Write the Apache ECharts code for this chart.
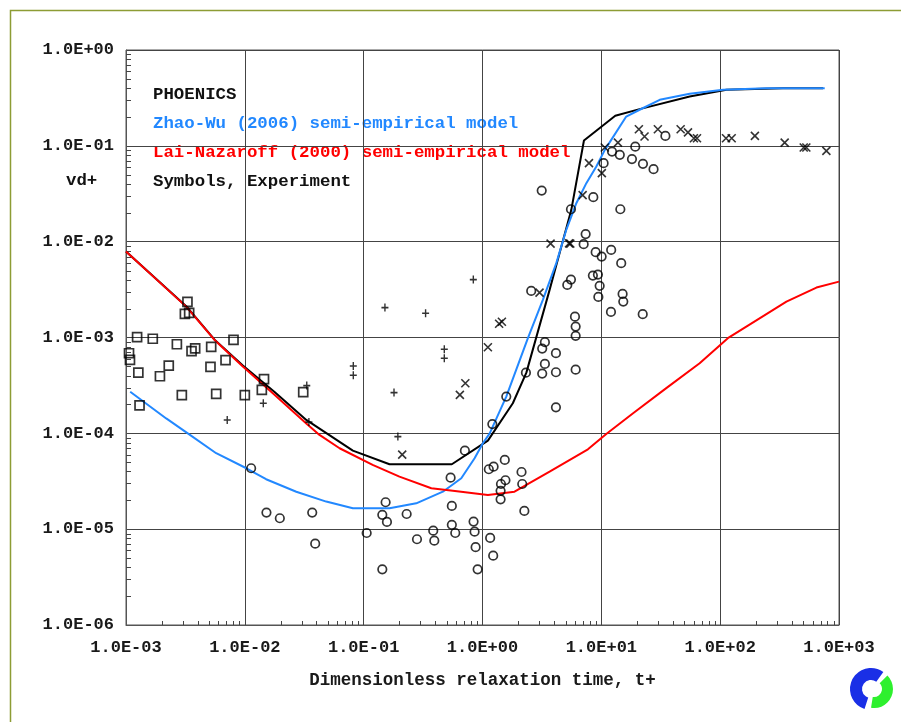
<!DOCTYPE html>
<html><head><meta charset="utf-8">
<script src="https://cdn.jsdelivr.net/npm/echarts@6/dist/echarts.min.js"></script>
<style>html,body{margin:0;padding:0;background:#fff}#c{width:901px;height:722px}</style>
</head><body><div id="c"></div>
<script>
const xTickLabels = ['1.0E-03','1.0E-02','1.0E-01','1.0E+00','1.0E+01','1.0E+02','1.0E+03'];
const yTickLabels = ['1.0E-06','1.0E-05','1.0E-04','1.0E-03','1.0E-02','1.0E-01','1.0E+00'];

const phoenicsLine = [
  [1.0e-3,7.88e-3],[3.21e-3,2.12e-3],[5.56e-3,9.5e-4],[9.62e-3,5.11e-4],[1.78e-2,2.70e-4],
  [3.29e-2,1.38e-4],[8.11e-2,6.6e-5],[0.165,4.76e-5],[0.552,4.76e-5],[1.11,8.39e-5],
  [1.80,2.06e-4],[2.34,4.30e-4],[3.67,3.14e-3],[4.61,8.89e-3],[5.59,2.15e-2],
  [7.14,0.1136],[13.1,0.2056],[21.0,0.2416],[55.4,0.327],[113,0.384],[338,0.400],[733,0.400]
];
const zhaoWuLine = [
  [1.085e-3,2.72e-4],[2.18e-3,1.43e-4],[3.31e-3,1.00e-4],[5.74e-3,6.2e-5],[1.03e-2,4.32e-5],
  [1.51e-2,3.32e-5],[2.71e-2,2.46e-5],[4.84e-2,1.94e-5],[8.11e-2,1.65e-5],[0.165,1.65e-5],
  [0.277,1.86e-5],[0.464,2.46e-5],[0.663,3.40e-5],[0.858,5.49e-5],[1.007,7.88e-5],
  [1.15,1.00e-4],[1.585,2.42e-4],[2.41,9.84e-4],[3.22,2.47e-3],[4.18,5.97e-3],
  [5.07,1.33e-2],[6.16,2.52e-2],[7.48,4.08e-2],[9.08,6.08e-2],[10.7,9.08e-2],
  [16.2,0.202],[21.0,0.238],[31.0,0.302],[55.4,0.349],[106,0.384],[245,0.400],[758,0.400]
];
const laiNazaroffLine = [
  [1.0e-3,7.88e-3],[3.21e-3,2.10e-3],[5.56e-3,9.44e-4],[9.62e-3,4.97e-4],[1.72e-2,2.62e-4],
  [3.29e-2,1.27e-4],[4.25e-2,9.62e-5],[6.27e-2,6.99e-5],[0.119,4.68e-5],[0.200,3.53e-5],
  [0.371,2.67e-5],[0.563,2.52e-5],[1.11,2.27e-5],[1.86,2.46e-5],[3.67,3.98e-5],
  [7.71,6.82e-5],[11.0,9.86e-5],[18.5,1.62e-4],[35.2,2.96e-4],[67.2,5.39e-4],
  [116,9.84e-4],[166,1.30e-3],[361,2.37e-3],[646,3.32e-3],[1000,3.83e-3]
];

const expCircles = [
  [0.0113,4.32e-5],[0.0152,1.49e-5],[0.0197,1.30e-5],[0.0369,1.49e-5],[0.0391,7.06e-6],
  [0.106,9.12e-6],[0.153,1.91e-5],[0.1435,1.41e-5],[0.157,1.19e-5],[0.1435,3.81e-6],
  [0.230,1.44e-5],[0.281,7.85e-6],[0.385,9.64e-6],[0.393,7.59e-6],[0.539,3.45e-5],
  [0.552,1.75e-5],[0.552,1.11e-5],[0.590,9.12e-6],[0.711,6.6e-5],[0.841,1.20e-5],
  [0.858,9.42e-6],[0.875,6.48e-6],[0.910,3.81e-6],[1.16,8.1e-6],[1.23,5.29e-6],
  [1.13,4.22e-5],[1.24,4.49e-5],[1.54,5.28e-5],[1.21,1.25e-4],[1.43,2.96e-5],
  [1.56,3.24e-5],[1.42,2.51e-5],[1.42,2.05e-5],[2.13,3.95e-5],[2.16,2.96e-5],
  [2.25,1.55e-5],[2.57,3.06e-3],[9.44,2.65e-3],[15.1,2.85e-3],[15.3,2.37e-3],
  [12.05,1.85e-3],[22.3,1.75e-3],[6.0,1.65e-3],[6.08,1.30e-3],[6.08,1.04e-3],
  [3.35,8.93e-4],[3.18,7.66e-4],[4.15,6.86e-4],[3.35,5.30e-4],[3.18,4.20e-4],
  [4.15,4.34e-4],[6.08,4.62e-4],[2.32,4.30e-4],[1.585,2.42e-4],[4.15,1.87e-4],
  [3.15,3.41e-2],[5.55,2.18e-2],[8.56,2.91e-2],[7.38,1.20e-2],[7.10,9.41e-3],
  [8.96,7.77e-3],[10.06,6.99e-3],[12.1,8.21e-3],[14.7,5.97e-3],[8.49,4.43e-3],
  [9.36,4.54e-3],[5.55,4.02e-3],[5.17,3.54e-3],[9.68,3.46e-3],[14.45,2.18e-2],
  [10.45,6.6e-2],[12.3,8.72e-2],[14.3,8.05e-2],[18.1,7.27e-2],[22.4,6.49e-2],
  [27.5,5.71e-2],[19.3,9.8e-2],[34.6,0.127]
];
const expSquares = [
  [1.06e-3,6.85e-4],[1.08e-3,5.84e-4],[1.24e-3,1.01e-3],[1.68e-3,9.7e-4],[1.27e-3,4.3e-4],
  [1.30e-3,1.96e-4],[1.93e-3,3.94e-4],[2.29e-3,5.09e-4],[2.68e-3,8.5e-4],[2.95e-3,2.5e-4],
  [3.29e-3,2.35e-3],[3.13e-3,1.76e-3],[3.40e-3,1.81e-3],[3.56e-3,7.2e-4],[3.82e-3,7.7e-4],
  [5.21e-3,8.0e-4],[5.14e-3,4.93e-4],[5.74e-3,2.58e-4],[6.88e-3,5.8e-4],[8.03e-3,9.44e-4],
  [1.0e-2,2.5e-4],[1.45e-2,3.67e-4],[1.39e-2,2.84e-4],[3.10e-2,2.69e-4]
];
const expPluses = [
  [7.11e-3,1.38e-4],[1.43e-2,2.06e-4],[3.32e-2,3.15e-4],[3.46e-2,1.31e-4],[8.18e-2,5.05e-4],
  [8.18e-2,4.04e-4],[0.151,2.05e-3],[0.180,2.66e-4],[0.332,1.79e-3],[0.477,7.55e-4],
  [0.477,6.08e-4],[0.837,4.02e-3],[0.194,9.24e-5]
];
const expCrosses = [
  [0.211,6.0e-5],[1.11,7.92e-4],[0.645,2.52e-4],[0.717,3.33e-4],[1.456,1.46e-3],
  [1.38,1.39e-3],[3.02,2.94e-3],[3.74,9.55e-3],[5.48,9.55e-3],[5.35,9.6e-3],[6.96,3.06e-2],
  [7.87,6.6e-2],[10.1,5.19e-2],[10.7,9.6e-2],[13.8,0.108],[20.7,0.149],[23.1,0.125],
  [29.9,0.149],[46.5,0.149],[53.6,0.138],[60.1,0.120],[63.8,0.120],[112,0.120],
  [125,0.120],[196,0.127],[349,0.108],[505,0.096],[531,0.096],[783,0.0887]
];

const minorSteps = [2,3,4,5,6,7,8,9];
const xDecadeStarts = [1e-3,1e-2,1e-1,1e0,1e1,1e2];
const yDecadeStarts = [1e-6,1e-5,1e-4,1e-3,1e-2,1e-1];

const FONT = '"Liberation Mono","Courier New",monospace';
const xMinor = []; xDecadeStarts.forEach(d => minorSteps.forEach(m => xMinor.push([d*m, 1e-6])));
const yMinor = []; yDecadeStarts.forEach(d => minorSteps.forEach(m => yMinor.push([1e-3, d*m])));

function expIndex(v, base) { return Math.round(Math.log10(v)) - base; }

const chart = echarts.init(document.getElementById('c'), null, {renderer:'canvas'});
const hollow = (w) => ({color:'rgba(0,0,0,0)', borderColor:'#000', borderWidth:w});

chart.setOption({
  animation: false,
  backgroundColor: '#fff',
  grid: {left:126, top:50, width:713, height:575, show:true, borderColor:'#555', borderWidth:1, outerBoundsMode:'none'},
  xAxis: {
    type:'log', logBase:10, min:1e-3, max:1e3, splitNumber:6,
    axisLine:{show:true, lineStyle:{color:'#555', width:1}},
    axisTick:{show:false},
    splitLine:{show:true, lineStyle:{color:'#444', width:1}},
    axisLabel:{margin:14, color:'#1a1a1a', fontFamily:FONT, fontWeight:'bold', fontSize:17,
      formatter: v => xTickLabels[expIndex(v, -3)]},
    name:'Dimensionless relaxation time, t+', nameLocation:'middle', nameGap:47,
    nameTextStyle:{color:'#1a1a1a', fontFamily:FONT, fontWeight:'bold', fontSize:17.5}
  },
  yAxis: {
    type:'log', logBase:10, min:1e-6, max:1, splitNumber:6,
    axisLine:{show:true, lineStyle:{color:'#555', width:1}},
    axisTick:{show:false},
    splitLine:{show:true, lineStyle:{color:'#444', width:1}},
    axisLabel:{margin:12, color:'#1a1a1a', fontFamily:FONT, fontWeight:'bold', fontSize:17,
      padding:[0,0,11,0],
      formatter: v => yTickLabels[expIndex(v, -6)]}
  },
  graphic: [
    {type:'rect', silent:true, shape:{x:10.5, y:10.5, width:900, height:720}, style:{fill:'none', stroke:'#8d9c34', lineWidth:1.5}},
    {type:'text', x:153, y:95, style:{text:'PHOENICS', fill:'#111', font:'bold 17.4px '+FONT, verticalAlign:'middle'}},
    {type:'text', x:153, y:124, style:{text:'Zhao-Wu (2006) semi-empirical model', fill:'#2288ff', font:'bold 17.4px '+FONT, verticalAlign:'middle'}},
    {type:'text', x:153, y:153, style:{text:'Lai-Nazaroff (2000) semi-empirical model', fill:'#ff0000', font:'bold 17.4px '+FONT, verticalAlign:'middle'}},
    {type:'text', x:153, y:182, style:{text:'Symbols, Experiment', fill:'#111', font:'bold 17.4px '+FONT, verticalAlign:'middle'}},
    {type:'text', x:66, y:181, style:{text:'vd+', fill:'#111', font:'bold 17.4px '+FONT, verticalAlign:'middle'}},
    {type:'sector', silent:true, shape:{cx:871, cy:689, r:21, r0:9, startAngle:Math.PI*0.6, endAngle:Math.PI*1.7, clockwise:true}, style:{fill:'#1a2fe6'}},
    {type:'sector', silent:true, shape:{cx:874, cy:689, r:19, r0:8, startAngle:-Math.PI*0.25, endAngle:Math.PI*0.55, clockwise:true}, style:{fill:'#2ef02e'}}
  ],
  series: [
    {type:'custom', silent:true, clip:false, data:xMinor, z:1,
      renderItem:(params, api) => { const p = api.coord([api.value(0), api.value(1)]); const x = Math.round(p[0])+0.5;
        return {type:'line', shape:{x1:x, y1:p[1], x2:x, y2:p[1]-4}, style:{stroke:'#444', lineWidth:1}}; }},
    {type:'custom', silent:true, clip:false, data:yMinor, z:1,
      renderItem:(params, api) => { const p = api.coord([api.value(0), api.value(1)]); const y = Math.round(p[1])+0.5;
        return {type:'line', shape:{x1:p[0], y1:y, x2:p[0]+5, y2:y}, style:{stroke:'#444', lineWidth:1}}; }},
    {type:'line', name:'PHOENICS', data:phoenicsLine, showSymbol:false, symbol:'none', z:3, lineStyle:{color:'#000', width:2}},
    {type:'line', name:'Zhao-Wu', data:zhaoWuLine, showSymbol:false, symbol:'none', z:3, lineStyle:{color:'#2288ff', width:2}},
    {type:'line', name:'Lai-Nazaroff', data:laiNazaroffLine, showSymbol:false, symbol:'none', z:4, lineStyle:{color:'#ff0000', width:2}},
    {type:'scatter', data:expCircles, symbol:'circle', symbolSize:8.5, z:5, itemStyle:hollow(1.7)},
    {type:'scatter', data:expSquares, symbol:'rect', symbolSize:9, z:5, itemStyle:hollow(1.7)},
    {type:'scatter', data:expPluses, symbol:'path://M0,5L10,5M5,0L5,10', symbolSize:[7,8], z:5, itemStyle:hollow(1.5)},
    {type:'scatter', data:expCrosses, symbol:'path://M0,0L10,10M10,0L0,10', symbolSize:[8,8], z:5, itemStyle:hollow(1.6)}
  ]
});
</script></body></html>
